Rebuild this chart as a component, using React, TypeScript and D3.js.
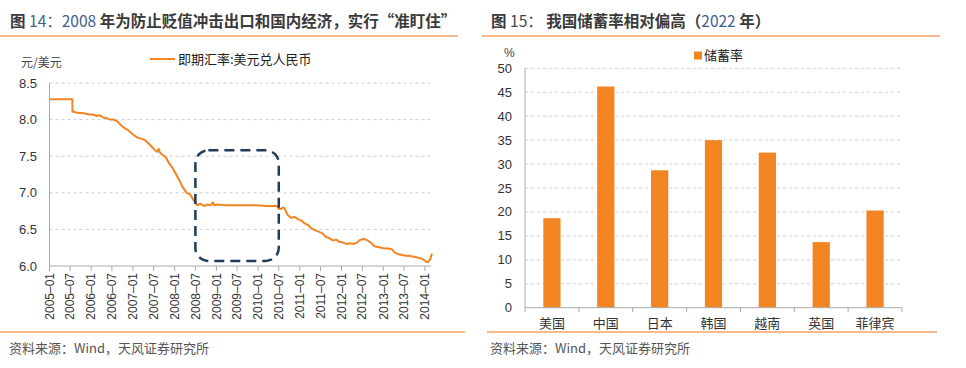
import React from "react";
import * as d3 from "d3";

// ---------- Left chart data (USD/CNY spot rate) ----------
const rateDates: string[] = [
  "2005-01-04","2005-03-01","2005-05-01","2005-07-20","2005-07-21","2005-08-15","2005-09-15","2005-10-15","2005-11-15","2005-12-15",
  "2006-01-15","2006-02-15","2006-03-15","2006-04-15","2006-05-15","2006-06-15","2006-07-15","2006-08-15","2006-09-15","2006-10-15","2006-11-15","2006-12-15",
  "2007-01-15","2007-02-15","2007-03-15","2007-04-15","2007-05-15","2007-06-15","2007-07-15","2007-08-01","2007-08-15","2007-08-25","2007-09-15","2007-10-15","2007-11-15","2007-12-15",
  "2008-01-15","2008-02-15","2008-03-15","2008-04-15","2008-05-15","2008-06-15","2008-07-15","2008-08-15","2008-09-15","2008-10-15","2008-11-15","2008-12-01","2008-12-15",
  "2009-01-15","2009-03-15","2009-06-15","2009-09-15","2009-12-15","2010-03-15","2010-06-15","2010-07-01","2010-07-20","2010-08-05","2010-08-20","2010-09-15","2010-10-15","2010-11-15","2010-12-15",
  "2011-01-15","2011-02-15","2011-03-15","2011-04-15","2011-05-15","2011-06-15","2011-07-15","2011-08-15","2011-09-15","2011-10-15","2011-11-15","2011-12-15",
  "2012-01-15","2012-02-15","2012-03-15","2012-04-15","2012-05-15","2012-06-15","2012-07-15","2012-08-15","2012-09-15","2012-10-15","2012-11-15","2012-12-15",
  "2013-01-15","2013-02-15","2013-03-15","2013-04-15","2013-05-15","2013-06-15","2013-07-15","2013-08-15","2013-09-15","2013-10-15","2013-11-15","2013-12-15",
  "2014-01-10","2014-01-25","2014-02-15","2014-03-03"
];
const rateValues: number[] = [
  8.2765,8.2765,8.2765,8.2765,8.11,8.10,8.09,8.09,8.08,8.07,
  8.07,8.05,8.06,8.03,8.02,8.00,8.00,7.98,7.93,7.89,7.86,7.82,
  7.78,7.75,7.74,7.72,7.68,7.63,7.58,7.56,7.60,7.55,7.52,7.49,7.40,7.34,
  7.25,7.16,7.07,7.00,6.98,6.90,6.83,6.85,6.82,6.84,6.83,6.87,6.83,
  6.84,6.83,6.83,6.83,6.83,6.82,6.82,6.78,6.78,6.80,6.79,6.70,6.66,6.67,6.64,
  6.62,6.58,6.56,6.51,6.49,6.47,6.45,6.40,6.38,6.35,6.36,6.33,
  6.32,6.30,6.31,6.30,6.32,6.36,6.37,6.35,6.32,6.27,6.26,6.25,
  6.24,6.24,6.23,6.18,6.16,6.15,6.14,6.14,6.13,6.12,6.11,6.09,
  6.06,6.05,6.09,6.17
];
const leftYTicks: number[] = [6.0, 6.5, 7.0, 7.5, 8.0, 8.5];
const leftXTickDates: string[] = [
  "2005-01","2005-07","2006-01","2006-07","2007-01","2007-07","2008-01","2008-07","2009-01","2009-07",
  "2010-01","2010-07","2011-01","2011-07","2012-01","2012-07","2013-01","2013-07","2014-01"
];
const leftXTickLabels: string[] = leftXTickDates.map((s) => s.replace("-", "–"));
const boxDates: string[] = ["2008-07", "2010-07"];
const boxValues: number[] = [7.58, 6.07];

// ---------- Right chart data (saving rate 2022) ----------
const countries: string[] = ["美国", "中国", "日本", "韩国", "越南", "英国", "菲律宾"];
const savingRates: number[] = [18.7, 46.2, 28.7, 35.0, 32.4, 13.7, 20.3];
const rightYTicks: number[] = [0, 5, 10, 15, 20, 25, 30, 35, 40, 45, 50];

const FONT = "'Liberation Sans', Arial, 'Noto Sans CJK SC', sans-serif";
const CJK = "'Noto Sans CJK SC', 'Liberation Sans', sans-serif";
const ORANGE = "#F28522";
const RULE = "#F7B98A";

export default function App() {
  const parseDay = d3.timeParse("%Y-%m-%d");
  const parseMonth = d3.timeParse("%Y-%m");
  const rateData = rateDates.map((d, i) => ({ date: parseDay(d) as Date, value: rateValues[i] }));

  const xL = d3.scaleTime()
    .domain([parseMonth("2005-01") as Date, parseMonth("2014-01") as Date])
    .range([49.5, 425]);
  const yL = d3.scaleLinear().domain([6, 8.5]).range([266, 83]);
  const lineGen = d3.line<{ date: Date; value: number }>()
    .x((d) => xL(d.date))
    .y((d) => yL(d.value))
    .curve(d3.curveLinear);

  const leftAxisEnd = 431;

  const xR = d3.scaleBand<string>()
    .domain(countries)
    .range([525, 902])
    .paddingInner(0.68)
    .paddingOuter(0.34);
  const yR = d3.scaleLinear().domain([0, 50]).range([307.7, 68.3]);
  const step = xR.step();

  const bx0 = xL(parseMonth(boxDates[0]) as Date);
  const bx1 = xL(parseMonth(boxDates[1]) as Date);
  const by0 = yL(boxValues[0]);
  const by1 = yL(boxValues[1]);

  return (
    <svg
      width={966}
      height={368}
      style={{ position: "absolute", left: 0, top: 0, background: "#fff" }}
      fontFamily={FONT}
    >
      {/* Titles */}
      <text x={10} y={27} fontSize={15.5} fontWeight="bold" fill="#3a3a3a" fontFamily={CJK}>
        图 <tspan fill="#3F5F8F" fontWeight="normal">14：2008</tspan> 年为防止贬值冲击出口和国内经济，实行“准盯住”
      </text>
      <line x1={0} x2={458} y1={36} y2={36} stroke={RULE} strokeWidth={2} />
      <text x={491} y={27} fontSize={15.5} fontWeight="bold" fill="#3a3a3a" fontFamily={CJK}>
        图 <tspan fontWeight="normal" fill="#444">15：</tspan> 我国储蓄率相对偏高（<tspan fontWeight="normal" fill="#3F5F8F">2022</tspan> 年）
      </text>
      <line x1={482} x2={940} y1={36} y2={36} stroke={RULE} strokeWidth={2} />

      {/* Footers */}
      <line x1={0} x2={465} y1={332} y2={332} stroke={RULE} strokeWidth={2} />
      <line x1={487} x2={937} y1={332} y2={332} stroke={RULE} strokeWidth={2} />
      <text x={9} y={353} fontSize={13} fill="#555" fontFamily={CJK}>资料来源：Wind，天风证券研究所</text>
      <text x={490} y={353} fontSize={13} fill="#555" fontFamily={CJK}>资料来源：Wind，天风证券研究所</text>

      {/* ---------- Left chart ---------- */}
      <text x={21} y={67} fontSize={12} fill="#444" fontFamily={CJK}>元/美元</text>
      {/* legend */}
      <line x1={150} x2={175} y1={59} y2={59} stroke={ORANGE} strokeWidth={2} />
      <text x={178} y={63.5} fontSize={13} fill="#222" fontFamily={CJK}>即期汇率:美元兑人民币</text>
      {/* grid */}
      {leftYTicks.filter((t) => t > 6).map((t) => (
        <line key={"lg" + t} x1={49.5} x2={leftAxisEnd} y1={yL(t)} y2={yL(t)}
          stroke="#cfcfcf" strokeWidth={1} strokeDasharray="3,3" />
      ))}
      {/* y labels */}
      {leftYTicks.map((t) => (
        <text key={"ly" + t} x={37} y={yL(t)} dy="0.35em" textAnchor="end" fontSize={13} fill="#333">
          {t.toFixed(1)}
        </text>
      ))}
      {/* axes */}
      <line x1={49.5} x2={49.5} y1={83} y2={266} stroke="#aaa" strokeWidth={1} />
      <line x1={49.5} x2={leftAxisEnd} y1={266} y2={266} stroke="#aaa" strokeWidth={1} />
      {leftXTickDates.map((s, i) => {
        const x = xL(parseMonth(s) as Date);
        return (
          <g key={"lx" + s}>
            <line x1={x} x2={x} y1={266} y2={271} stroke="#aaa" strokeWidth={1} />
            <text
              transform={`translate(${x},${273}) rotate(-90)`}
              dy="0.35em"
              textAnchor="end"
              fontSize={12}
              fill="#333"
            >
              {leftXTickLabels[i]}
            </text>
          </g>
        );
      })}
      {/* line */}
      <path d={lineGen(rateData) || ""} fill="none" stroke={ORANGE} strokeWidth={2} strokeLinejoin="round" />
      {/* dashed box */}
      <rect x={bx0} y={by0} width={bx1 - bx0} height={by1 - by0} rx={13} ry={13}
        fill="none" stroke="#1F3A5A" strokeWidth={2.5} strokeDasharray="10,6" />

      {/* ---------- Right chart ---------- */}
      <text x={504} y={53} dy="0.35em" fontSize={12} fill="#444">%</text>
      {/* legend */}
      <rect x={694} y={51.5} width={8} height={8} fill={ORANGE} />
      <text x={704} y={60} fontSize={13} fill="#222" fontFamily={CJK}>储蓄率</text>
      {rightYTicks.filter((t) => t > 0).map((t) => (
        <line key={"rg" + t} x1={525} x2={902} y1={yR(t)} y2={yR(t)}
          stroke="#cfcfcf" strokeWidth={1} strokeDasharray="3,3" />
      ))}
      {rightYTicks.map((t) => (
        <text key={"ry" + t} x={512} y={yR(t)} dy="0.35em" textAnchor="end" fontSize={13} fill="#333">
          {t}
        </text>
      ))}
      {countries.map((c, i) => (
        <rect key={"bar" + c} x={xR(c)} y={yR(savingRates[i])} width={xR.bandwidth()}
          height={yR(0) - yR(savingRates[i])} fill={ORANGE} />
      ))}
      <line x1={525} x2={525} y1={68} y2={307.7} stroke="#aaa" strokeWidth={1} />
      <line x1={525} x2={902} y1={307.7} y2={307.7} stroke="#aaa" strokeWidth={1} />
      {countries.map((c, i) => {
        const x = 525 + step * (i + 1);
        return <line key={"rt" + c} x1={x} x2={x} y1={307.7} y2={312} stroke="#aaa" strokeWidth={1} />;
      })}
      <line x1={525} x2={525} y1={307.7} y2={312} stroke="#aaa" strokeWidth={1} />
      {countries.map((c) => (
        <text key={"rl" + c} x={(xR(c) as number) + xR.bandwidth() / 2} y={323} dy="0.35em"
          textAnchor="middle" fontSize={13} fill="#333" fontFamily={CJK}>
          {c}
        </text>
      ))}
    </svg>
  );
}
